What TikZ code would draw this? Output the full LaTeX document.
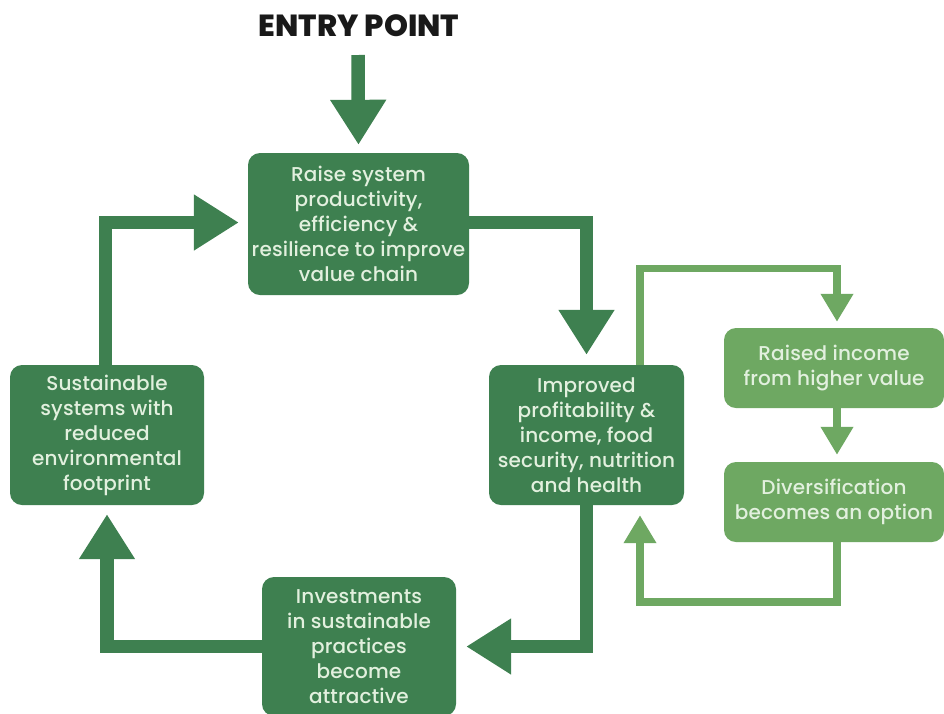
\documentclass[tikz,border=0pt]{standalone}
\usepackage{fontspec}
\setmainfont{Poppins}
\newfontfamily\boxfont[LetterSpace=0.8]{Poppins Medium}
\newfontfamily\titlefont{Poppins ExtraBold}
\usetikzlibrary{arrows.meta}
\definecolor{dkgreen}{RGB}{62,128,80}
\definecolor{ltgreen}{RGB}{110,168,98}
\definecolor{boxtext}{RGB}{226,240,222}
\begin{document}
\begin{tikzpicture}[x=1pt,y=-1pt,
  boxstyle/.style={rectangle, rounded corners=12pt, inner sep=0pt, align=center,
    text=boxtext, font=\boxfont\fontsize{20}{25}\selectfont},
  darkbox/.style={boxstyle, fill=dkgreen},
  lightbox/.style={boxstyle, fill=ltgreen},
  bigarrow/.style={draw=dkgreen, line width=13.5pt, line join=miter,
    -{Triangle[width=53pt,length=45pt]}},
  smallarrow/.style={draw=ltgreen, line width=7.5pt, line join=miter,
    -{Triangle[width=31pt,length=28pt]}}]
\useasboundingbox (0,0) rectangle (944,713);
\fill[white] (0,0) rectangle (944,713);

\node[font=\titlefont\fontsize{30.5}{32}\selectfont, text=black!90] (title) at (359,26) {ENTRY POINT};
\coordinate (entry) at (358,55);

\node[darkbox, minimum width=221pt, minimum height=142pt] (A) at (358.5,224)
  {Raise system\\productivity,\\efficiency \&\\resilience to improve\\value chain};
\node[darkbox, minimum width=195pt, minimum height=140pt] (B) at (586.5,435)
  {Improved\\profitability \&\\income, food\\security, nutrition\\and health};
\node[darkbox, minimum width=194pt, minimum height=140pt] (D) at (107,435)
  {Sustainable\\systems with\\reduced\\environmental\\footprint};
\node[darkbox, minimum width=194pt, minimum height=139pt] (C) at (359,646.5)
  {Investments\\in sustainable\\practices\\become\\attractive};
\node[lightbox, minimum width=220pt, minimum height=80pt] (E) at (834,368)
  {Raised income\\from higher value};
\node[lightbox, minimum width=220pt, minimum height=80pt] (F) at (834,502)
  {Diversification\\becomes an option};

\draw[bigarrow, shorten >=8pt] (entry) -- (A.north);
\draw[bigarrow, shorten >=9pt] ([xshift=-1.5pt]D.north) |- ([yshift=1.5pt]A.west);
\draw[bigarrow, shorten >=10pt] ([yshift=1.5pt]A.east) -| (B.north);
\draw[bigarrow, shorten >=10pt] (B.south) |- (C.east);
\draw[bigarrow, shorten >=9pt] (C.west) -| (D.south);

\draw[smallarrow, shorten >=6pt] ([xshift=53.5pt]B.north) -- ++(0,-96.5) -| ([xshift=3pt]E.north);
\draw[smallarrow, shorten >=7pt] ([xshift=3pt]E.south) -- ([xshift=3pt]F.north);
\draw[smallarrow, shorten >=10pt] ([xshift=3pt]F.south) -- ++(0,60) -| ([xshift=53.5pt]B.south);
\end{tikzpicture}
\end{document}
